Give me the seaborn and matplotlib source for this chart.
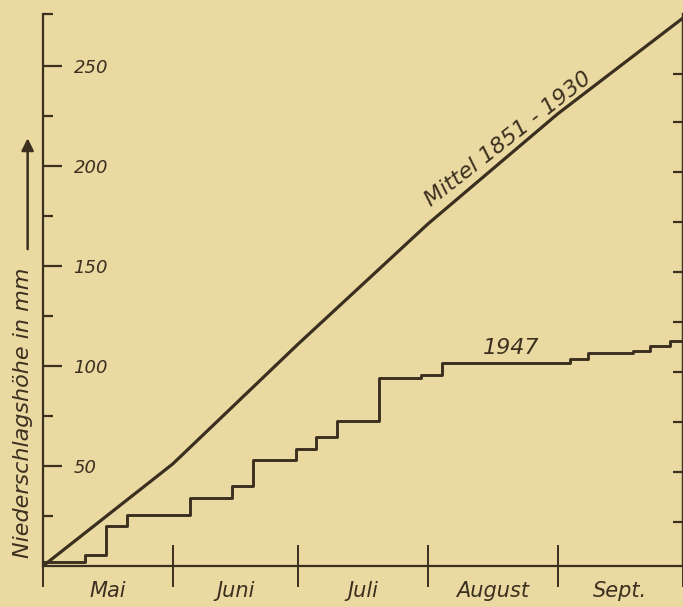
import matplotlib
matplotlib.use("Agg")
import matplotlib.pyplot as plt
import seaborn as sns
import pandas as pd
from matplotlib.ticker import FixedLocator

# month boundaries in days since 1 May, and labels
month_edges = [0, 31, 61, 92, 123, 153]
month_names = ["Mai", "Juni", "Juli", "August", "Sept."]

# long-term mean 1851-1930, cumulative mm at month ends
mittel_days = [0, 31, 61, 92, 123, 153]
mittel_mm = [0, 51, 111, 171, 226, 274]

# 1947, cumulative mm (step function)
y1947_days = [0, 0, 10, 15, 20, 35.2, 45.2, 50.2, 60.5, 65.3, 70.3, 80.4, 90.4,
              95.5, 126, 130.4, 141, 145, 150, 153]
y1947_mm = [0, 2, 5.5, 20, 25.5, 34, 40, 53, 58.5, 64.5, 72.5, 94, 95.5,
            101.5, 103.5, 106.5, 107.5, 110, 112.5, 112.5]

paper = "#ebd9a2"
ink = "#3b2f20"

sns.set_style("white", {"axes.facecolor": paper, "figure.facecolor": paper,
                        "axes.edgecolor": ink})
plt.rcParams["font.family"] = ["DejaVu Sans"]
plt.rcParams["font.style"] = "italic"

fig = plt.figure(figsize=(6.83, 6.07), dpi=100)
ax = fig.add_axes([43 / 683, 41 / 607, 640 / 683, 552 / 607])

df_m = pd.DataFrame({"tag": mittel_days, "mm": mittel_mm})
df_47 = pd.DataFrame({"tag": y1947_days, "mm": y1947_mm})

sns.lineplot(data=df_m, x="tag", y="mm", ax=ax, color=ink, lw=2.3,
             estimator=None)
sns.lineplot(data=df_47, x="tag", y="mm", ax=ax, color=ink, lw=2.1,
             estimator=None, drawstyle="steps-post")

ax.set_xlim(0, 153)
ax.set_ylim(0, 276)
ax.set_xlabel("")
ax.set_ylabel("")

ax.spines["top"].set_visible(False)
for s in ["left", "bottom", "right"]:
    ax.spines[s].set_linewidth(1.6)

# y ticks inside, labels inside
ax.yaxis.set_major_locator(FixedLocator([50, 100, 150, 200, 250]))
ax.yaxis.set_minor_locator(FixedLocator([25, 75, 125, 175, 225, 276]))
ax.tick_params(axis="y", which="major", left=True, direction="in", length=14,
               width=1.6, color=ink, labelsize=13, labelcolor=ink, pad=-22)
ax.tick_params(axis="y", which="minor", left=True, direction="in", length=7,
               width=1.6, color=ink)
for lab in ax.get_yticklabels():
    lab.set_horizontalalignment("left")
    lab.set_style("italic")

# x ticks across axis at month edges, labels centered in months
month_mid = [(a + b) / 2 for a, b in zip(month_edges[:-1], month_edges[1:])]
ax.xaxis.set_major_locator(FixedLocator(month_edges))
ax.xaxis.set_major_formatter(plt.NullFormatter())
ax.xaxis.set_minor_locator(FixedLocator(month_mid))
ax.set_xticklabels(month_names, minor=True)
ax.tick_params(axis="x", which="major", bottom=True, direction="inout",
               length=30, width=1.4, color=ink)
ax.tick_params(axis="x", which="minor", bottom=True, length=0, labelsize=15,
               labelcolor=ink, pad=11)
for lab in ax.get_xticklabels(minor=True):
    lab.set_style("italic")

# right side ticks
ax2 = ax.twinx()
ax2.set_ylim(0, 276)
ax2.yaxis.set_major_locator(FixedLocator([22, 47, 72, 97, 122, 147, 172, 197, 222, 246]))
ax2.tick_params(axis="y", right=True, direction="in", length=7, width=1.6,
                color=ink, labelright=False)
for s in ["top", "left", "bottom"]:
    ax2.spines[s].set_visible(False)
ax2.spines["right"].set_linewidth(1.6)
ax2.spines["right"].set_color(ink)

# curve labels
ax.text(112, 211, "Mittel 1851 - 1930", rotation=38, ha="center",
        va="baseline", fontsize=16, style="italic", color=ink,
        rotation_mode="anchor")
ax.text(112, 109, "1947", ha="center", va="center", fontsize=16,
        style="italic", color=ink)

# y axis label with arrow
ax.text(-0.031, 0.277, "Niederschlagshöhe in mm", transform=ax.transAxes,
        rotation=90, ha="center", va="center", fontsize=16, style="italic",
        color=ink)
ax.annotate("", xy=(-0.024, 0.78), xytext=(-0.024, 0.569),
            xycoords="axes fraction", textcoords="axes fraction",
            arrowprops=dict(arrowstyle="-|>", lw=1.8, color=ink,
                            mutation_scale=18),
            annotation_clip=False)

fig.savefig("out.png", dpi=100, facecolor=paper)
